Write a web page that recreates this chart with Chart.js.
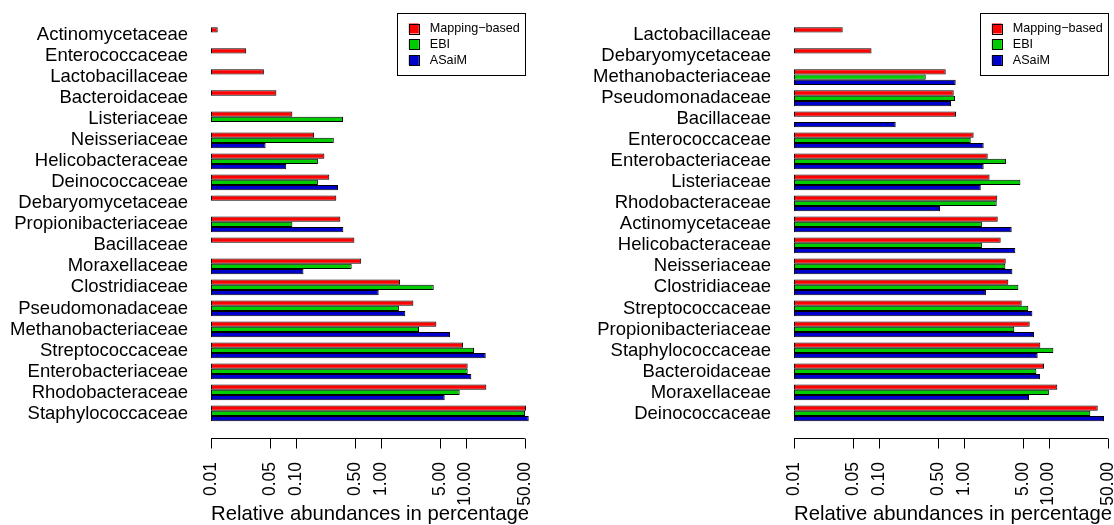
<!DOCTYPE html>
<html lang="en">
<head>
    <meta charset="UTF-8">
    <title>Relative abundances per family</title>
    <script src="https://cdn.jsdelivr.net/npm/chart.js"></script>
    <style>
        body { margin: 0; background: #fff; }
        #panels { display: flex; width: 1114px; height: 525px; }
        canvas { display: block; }
    </style>
</head>
<body>
    <div id="panels">
        <canvas id="leftChart" width="557" height="525"></canvas>
        <canvas id="rightChart" width="557" height="525"></canvas>
    </div>

    <script>
        // series names and colours (red / green3 / blue3)
        const seriesNames = ['Mapping\u2212based', 'EBI', 'ASaiM'];
        const seriesColors = ['#ff0000', '#00cd00', '#0000cd'];

        // x axis ticks (percent, log scale)
        const tickValues = [0.01, 0.05, 0.1, 0.5, 1, 5, 10, 50];

        // first sample
        const leftFamilies = ['Actinomycetaceae', 'Enterococcaceae', 'Lactobacillaceae', 'Bacteroidaceae',
            'Listeriaceae', 'Neisseriaceae', 'Helicobacteraceae', 'Deinococcaceae', 'Debaryomycetaceae',
            'Propionibacteriaceae', 'Bacillaceae', 'Moraxellaceae', 'Clostridiaceae', 'Pseudomonadaceae',
            'Methanobacteriaceae', 'Streptococcaceae', 'Enterobacteriaceae', 'Rhodobacteraceae', 'Staphylococcaceae'];
        const leftMapping = [0.012, 0.026, 0.042, 0.059, 0.091, 0.164, 0.217, 0.248, 0.30, 0.335,
            0.49, 0.59, 1.69, 2.43, 4.53, 9.35, 10.6, 17.6, 51.6];
        const leftEBI = [null, null, null, null, 0.36, 0.28, 0.182, 0.182, null, 0.091,
            null, 0.455, 4.22, 1.64, 2.83, 12.6, 10.6, 8.53, 50.3];
        const leftASaiM = [null, null, null, null, null, 0.044, 0.077, 0.314, null, 0.363,
            null, 0.123, 0.947, 1.95, 6.56, 17.3, 11.7, 5.68, 55.6];

        // second sample
        const rightFamilies = ['Lactobacillaceae', 'Debaryomycetaceae', 'Methanobacteriaceae', 'Pseudomonadaceae',
            'Bacillaceae', 'Enterococcaceae', 'Enterobacteriaceae', 'Listeriaceae', 'Rhodobacteraceae',
            'Actinomycetaceae', 'Helicobacteraceae', 'Neisseriaceae', 'Clostridiaceae', 'Streptococcaceae',
            'Propionibacteriaceae', 'Staphylococcaceae', 'Bacteroidaceae', 'Moraxellaceae', 'Deinococcaceae'];
        const rightMapping = [0.0375, 0.082, 0.614, 0.763, 0.812, 1.31, 1.92, 2.02, 2.49, 2.52,
            2.73, 3.13, 3.36, 4.83, 6.00, 8.01, 8.85, 12.7, 38.0];
        const rightEBI = [null, null, 0.357, 0.791, null, 1.21, 3.15, 4.66, 2.45, 1.64,
            1.64, 3.10, 4.41, 5.78, 3.95, 11.4, 7.19, 10.1, 31.1];
        const rightASaiM = [null, null, 0.805, 0.709, 0.158, 1.72, 1.72, 1.59, 0.526, 3.68,
            4.06, 3.75, 1.83, 6.45, 6.75, 7.45, 7.94, 5.89, 45.1];

        Chart.defaults.font.family = '"Liberation Sans", Arial, Helvetica, sans-serif';
        Chart.defaults.color = '#000';

        // R-style axis: line only between first and last tick, set a bit below the bars
        const axisLine = {
            id: 'axisLine',
            afterDraw(chart) {
                const x = chart.scales.x;
                const ctx = chart.ctx;
                const y = Math.round(chart.chartArea.bottom + 14) + 0.5;
                ctx.save();
                ctx.strokeStyle = '#000';
                ctx.lineWidth = 1;
                ctx.beginPath();
                ctx.moveTo(x.getPixelForValue(tickValues[0]), y);
                ctx.lineTo(x.getPixelForValue(tickValues[tickValues.length - 1]), y);
                tickValues.forEach(v => {
                    const px = Math.round(x.getPixelForValue(v)) + 0.5;
                    ctx.moveTo(px, y);
                    ctx.lineTo(px, y + 10);
                });
                ctx.stroke();
                ctx.restore();
            }
        };

        // boxed legend in the top right corner
        const boxLegend = {
            id: 'boxLegend',
            afterDraw(chart) {
                const ctx = chart.ctx;
                const x = chart.scales.x;
                const right = x.getPixelForValue(tickValues[tickValues.length - 1]);
                const w = 128, h = 62, top = 13;
                const left = right - w;
                ctx.save();
                ctx.fillStyle = '#fff';
                ctx.fillRect(left, top, w, h);
                ctx.strokeStyle = '#000';
                ctx.lineWidth = 1;
                ctx.strokeRect(Math.round(left) + 0.5, top + 0.5, w, h);
                ctx.font = '12.6px "Liberation Sans", Arial, sans-serif';
                ctx.textBaseline = 'middle';
                chart.data.datasets.forEach((ds, i) => {
                    const cy = top + 15.5 + i * 15.8;
                    ctx.fillStyle = ds.backgroundColor;
                    ctx.fillRect(left + 12, cy - 5, 10, 10);
                    ctx.strokeStyle = '#000';
                    ctx.strokeRect(Math.round(left + 12) + 0.5, Math.round(cy - 5) + 0.5, 10, 10);
                    ctx.fillStyle = '#000';
                    ctx.fillText(ds.label, left + 33, cy);
                });
                ctx.restore();
            }
        };

        function makeChart(id, families, mapping, ebi, asaim, areaLeft, padRight) {
            const values = [mapping, ebi, asaim];
            return new Chart(document.getElementById(id), {
                type: 'bar',
                data: {
                    labels: families,
                    datasets: values.map((data, i) => ({
                        label: seriesNames[i],
                        data: data,
                        backgroundColor: seriesColors[i],
                        borderColor: '#000',
                        borderWidth: 1,
                        borderSkipped: false,
                        categoryPercentage: 0.75,
                        barPercentage: 1.0
                    }))
                },
                options: {
                    indexAxis: 'y',
                    responsive: false,
                    animation: false,
                    layout: { padding: { top: 24.7, right: padRight, bottom: 0, left: 0 } },
                    plugins: {
                        legend: { display: false },
                        tooltip: { enabled: false }
                    },
                    scales: {
                        x: {
                            type: 'logarithmic',
                            min: 0.01,
                            max: 56,
                            grid: { display: false, drawTicks: false },
                            border: { display: false },
                            afterBuildTicks: scale => {
                                scale.ticks = tickValues.map(v => ({ value: v }));
                            },
                            afterFit: scale => {
                                // labels hang below the axis, no side padding needed
                                scale.height = 101;
                                scale.paddingLeft = 0;
                                scale.paddingRight = 0;
                            },
                            ticks: {
                                autoSkip: false,
                                minRotation: 90,
                                maxRotation: 90,
                                padding: 38,
                                font: { size: 17.5 },
                                callback: v => Number(v).toFixed(2)
                            },
                            title: {
                                display: true,
                                text: 'Relative abundances in percentage',
                                font: { size: 20.3, lineHeight: 1 },
                                padding: { top: 0, bottom: 0 }
                            }
                        },
                        y: {
                            grid: { display: false, drawTicks: false },
                            border: { display: false },
                            afterFit: scale => {
                                scale.width = areaLeft;
                                scale.paddingTop = 0;
                                scale.paddingBottom = 0;
                            },
                            ticks: {
                                autoSkip: false,
                                padding: 23,
                                font: { size: 18.5 }
                            }
                        }
                    }
                },
                plugins: [axisLine, boxLegend]
            });
        }

        makeChart('leftChart', leftFamilies, leftMapping, leftEBI, leftASaiM, 211, 28);
        makeChart('rightChart', rightFamilies, rightMapping, rightEBI, rightASaiM, 237, 2);
    </script>
</body>
</html>
